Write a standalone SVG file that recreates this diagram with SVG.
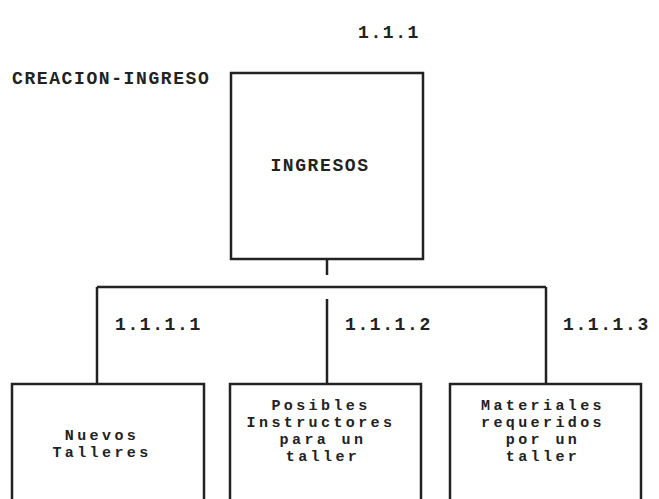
<svg xmlns="http://www.w3.org/2000/svg" width="659" height="499" viewBox="0 0 659 499">
<style>
text{font-family:"Liberation Mono","DejaVu Sans Mono",monospace;font-weight:bold;font-size:18px;fill:#222;letter-spacing:1.6px}
.box{fill:none;stroke:#222;stroke-width:2.5}
.c{text-anchor:middle;font-size:15px;letter-spacing:3.4px}
.ln{stroke:#222;stroke-width:2.5;fill:none}
</style>
<rect width="659" height="499" fill="#fff"/>
<g id="root">
<text x="358" y="38">1.1.1</text>
<text x="12" y="84">CREACION-INGRESO</text>
<rect class="box" x="231" y="73" width="192" height="186"/>
<text class="c" x="320" y="171" style="font-size:18px;letter-spacing:1.6px">INGRESOS</text>
</g>
<g id="connectors">
<path class="ln" d="M327 259V275M97 287H546M97 287V384M546 287V384M327 299V384"/>
</g>
<g id="n1">
<text x="115" y="330">1.1.1.1</text>
<rect class="box" x="12" y="384" width="192" height="120"/>
<text class="c" x="102" y="440">Nuevos</text>
<text class="c" x="102" y="457">Talleres</text>
</g>
<g id="n2">
<text x="345" y="330">1.1.1.2</text>
<rect class="box" x="230" y="384" width="191" height="120"/>
<text class="c" x="321" y="410">Posibles</text>
<text class="c" x="321" y="427">Instructores</text>
<text class="c" x="323" y="444">para un</text>
<text class="c" x="323" y="461">taller</text>
</g>
<g id="n3">
<text x="563" y="330">1.1.1.3</text>
<rect class="box" x="450" y="384" width="191" height="120"/>
<text class="c" x="543" y="410">Materiales</text>
<text class="c" x="543" y="427">requeridos</text>
<text class="c" x="543" y="444">por un</text>
<text class="c" x="543" y="461">taller</text>
</g>
</svg>
